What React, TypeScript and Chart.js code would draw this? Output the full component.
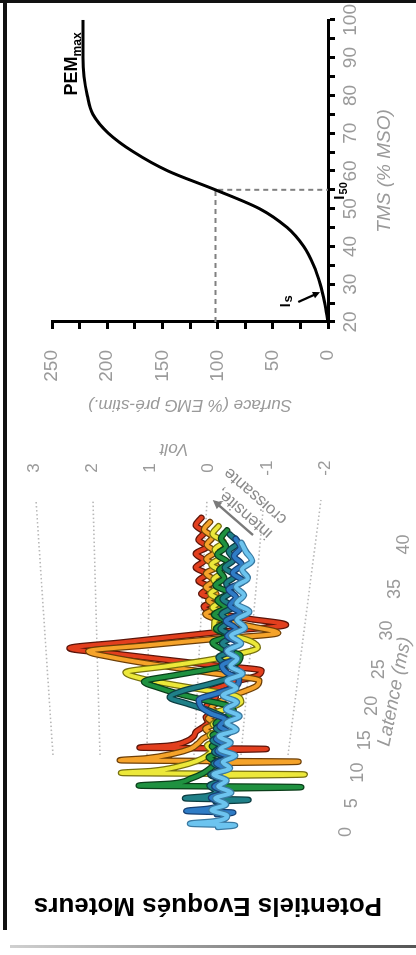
import React, { useEffect, useRef } from "react";
import { Chart, registerables } from "chart.js";

Chart.register(...registerables);

const FONT = '"Liberation Sans", Arial, Helvetica, sans-serif';

// ---------------- Left panel : MEP waterfall (values in volts) ----------------
const latencyMs = [0, 0.3, 0.6, 1, 2, 3, 4, 5, 6, 7, 8, 9, 10, 11, 12, 13, 14, 15, 16, 17, 18, 19, 20, 21, 22, 23, 24, 25, 26, 27, 28, 29, 30, 31, 32, 33, 34, 35, 36, 37, 38, 39, 40];

const mepLightBlue = [0, -0.36, 0.6, 0.1, -0.17, 0.17, -0.12, 0.12, -0.2, 0.08, -0.08, 0.2, -0.12, 0.04, -0.2, 0.12, -0.08, 0.17, -0.17, 0.04, -0.2, 0.08, -0.12, 0.17, -0.08, 0.12, -0.17, 0.08, -0.04, 0.17, -0.08, 0.12, -0.12, 0.04, -0.17, 0.08, -0.04, 0.12, -0.08, 0.04, -0.12, 0.0, 0.1];
const mepBlue = [0, -0.35, 0.65, 0.2, -0.1, 0.15, -0.15, 0.1, -0.1, 0.15, -0.1, 0.1, -0.15, 0.1, -0.05, 0.15, -0.1, 0.1, 0.0, 0.3, 0.5, 0.55, 0.2, -0.15, -0.2, 0.05, 0.15, -0.1, 0.1, -0.15, 0.1, -0.05, 0.15, -0.1, 0.1, 0.0, 0.15, -0.1, 0.1, -0.05, 0.1, 0.0, 0.1];
const mepTeal = [0, -0.7, 0.65, 0.2, 0.0, 0.15, -0.1, 0.15, -0.1, 0.1, -0.15, 0.1, -0.05, 0.15, -0.1, 0.1, -0.15, 0.0, 0.3, 0.7, 1.05, 0.8, 0.3, -0.1, -0.25, 0.0, 0.15, -0.1, 0.1, -0.1, 0.15, 0.0, 0.15, -0.05, 0.15, 0.0, 0.1, -0.05, 0.15, 0.0, 0.1, -0.05, 0.1];
const mepGreen = [0, -1.85, 1.6, 0.9, 0.5, 0.25, 0.1, 0.0, 0.15, -0.1, 0.1, -0.1, 0.1, -0.15, 0.05, -0.1, -0.3, -0.2, 0.3, 0.8, 1.2, 1.5, 0.9, 0.2, -0.3, -0.35, 0.0, 0.2, -0.1, 0.15, -0.05, 0.2, 0.0, 0.15, -0.05, 0.2, 0.05, 0.15, 0.0, 0.2, 0.05, 0.15, 0.05];
const mepYellow = [0, -1.95, 1.95, 1.3, 0.7, 0.35, 0.15, 0.05, 0.15, -0.05, 0.1, -0.1, 0.05, -0.15, 0.0, -0.3, -0.5, -0.4, 0.2, 0.9, 1.5, 1.8, 1.0, 0.2, -0.4, -0.75, -0.6, -0.2, 0.1, 0.1, -0.1, 0.15, 0.0, 0.2, 0.05, 0.15, 0.0, 0.2, 0.05, 0.15, 0.0, 0.2, 0.1];
const mepOrange = [0, -1.85, 1.95, 1.4, 0.8, 0.45, 0.3, 0.2, 0.05, 0.15, -0.05, 0.1, -0.1, 0.05, -0.1, -0.3, -0.6, -0.85, -0.9, -0.2, 0.6, 1.35, 2.0, 2.45, 1.3, 0.05, -1.2, -0.7, -0.1, 0.2, -0.05, 0.15, 0.0, 0.2, 0.05, 0.2, 0.0, 0.2, 0.05, 0.2, 0.1, 0.25, 0.15];
const mepRed = [0, -1.2, 1.5, 0.9, 0.5, 0.35, 0.3, 0.15, 0.05, 0.1, -0.05, 0.1, 0.0, -0.1, 0.05, -0.2, -0.5, -0.9, -1.0, -0.03, 0.92, 1.85, 2.76, 1.75, 0.7, -0.36, -1.42, -0.7, -0.05, 0.15, -0.1, 0.2, 0.05, 0.25, 0.1, 0.3, 0.15, 0.3, 0.1, 0.25, 0.15, 0.3, 0.2];

// front (lowest intensity) to back (highest intensity)
const traceValues = [mepLightBlue, mepBlue, mepTeal, mepGreen, mepYellow, mepOrange, mepRed];
const traceColors = ["#6cc4ef", "#2f7cc6", "#1f8088", "#1f9140", "#ece83a", "#f5a32a", "#e23f1e"];
const traceEdges = ["#3a7aa2", "#163f72", "#0d3d42", "#0b3e1a", "#77700f", "#6d3f08", "#5c150a"];

const voltTicks = [3, 2, 1, 0, -1, -2];
const latencyTicks = [0, 5, 10, 15, 20, 25, 30, 35, 40];

// ---------------- Right panel : recruitment curve ----------------
const tmsPercent = [20, 25, 30, 35, 40, 45, 50, 55, 60, 65, 70, 75, 80, 85, 90, 95, 100];
const surfacePercent = [0, 3, 7, 13, 22, 37, 62, 102, 145, 176, 199, 213, 218, 221, 222, 222, 222];
const i50Tms = 55;
const i50Surface = 102;

// ---------------- 3D projection of the waterfall ----------------
const PERSP_A = 0.01957;
const PERSP_B = -0.00544;
const DEPTH_SHIFT = 1.8;
const DEPTH_SHRINK = 0.0303;
const BASE_RISE = 0.025;
const BASE_TILT = 0.558;
const BASE_TILT_K = 0.0846;
const V_NEAR = 0.904;
const V_GROW = 0.192;

function persp(t: number) {
  return (PERSP_A * t) / (1 + PERSP_B * t);
}
function project(t: number, v: number, k: number) {
  const g = persp(t);
  return {
    x: DEPTH_SHIFT * k + 40 * g * (1 - DEPTH_SHRINK * k),
    y: BASE_RISE * k - g * (BASE_TILT - BASE_TILT_K * k) + v * (V_NEAR + V_GROW * g),
  };
}
// back wall (dotted volt grid)
function wallPoint(t: number, v: number) {
  const f = t / 40;
  return {
    x: 10.14 + 35.92 * f,
    y: (0.4615 + 0.904 * v) * (1 - f) + (0.2115 + 1.096 * v) * f,
  };
}

function drawArrow(ctx: CanvasRenderingContext2D, x0: number, y0: number, x1: number, y1: number, color: string, lw: number, head: number) {
  const ang = Math.atan2(y1 - y0, x1 - x0);
  ctx.save();
  ctx.strokeStyle = color;
  ctx.fillStyle = color;
  ctx.lineWidth = lw;
  ctx.beginPath();
  ctx.moveTo(x0, y0);
  ctx.lineTo(x1 - Math.cos(ang) * head * 0.7, y1 - Math.sin(ang) * head * 0.7);
  ctx.stroke();
  ctx.beginPath();
  ctx.moveTo(x1, y1);
  ctx.lineTo(x1 - head * Math.cos(ang - 0.45), y1 - head * Math.sin(ang - 0.45));
  ctx.lineTo(x1 - head * Math.cos(ang + 0.45), y1 - head * Math.sin(ang + 0.45));
  ctx.closePath();
  ctx.fill();
  ctx.restore();
}

const leftDecor = {
  id: "leftDecor",
  afterDatasetsDraw(chart: any) {
    const { ctx } = chart;
    const sx = chart.scales.x;
    const sy = chart.scales.y;
    const P = (p: { x: number; y: number }) => ({ x: sx.getPixelForValue(p.x), y: sy.getPixelForValue(p.y) });
    ctx.save();
    // volt labels
    ctx.fillStyle = "#9a9a9a";
    ctx.font = `17px ${FONT}`;
    ctx.textAlign = "center";
    ctx.textBaseline = "middle";
    for (const v of voltTicks) {
      const p = P(wallPoint(45, v));
      ctx.fillText(String(v), p.x, p.y);
    }
    // Volt title
    const vt = P(wallPoint(48, 0.6));
    ctx.save();
    ctx.translate(vt.x, vt.y);
    ctx.rotate(-Math.PI / 2);
    ctx.font = `italic 17px ${FONT}`;
    ctx.fillText("Volt", 0, 0);
    ctx.restore();
    // latency labels
    ctx.font = `18px ${FONT}`;
    for (const t of latencyTicks) {
      const p = P(project(t, -2.72, -0.4));
      ctx.fillText(String(t), p.x, p.y);
    }
    const a0 = P(project(0, -2.72, 0));
    const a1 = P(project(40, -2.72, 0));
    const ang = Math.atan2(a1.y - a0.y, a1.x - a0.x);
    const lt = P(project(21.5, -3.15, 0));
    ctx.save();
    ctx.translate(lt.x, lt.y);
    ctx.rotate(ang);
    ctx.font = `italic 19px ${FONT}`;
    ctx.fillText("Latence (ms)", 0, 0);
    ctx.restore();
    // intensity arrow
    const tail = P(wallPoint(34.5, -0.86));
    const tip = P(wallPoint(40, -0.1));
    drawArrow(ctx, tail.x, tail.y, tip.x, tip.y, "#7a7a7a", 2.5, 10);
    const len = Math.hypot(tip.x - tail.x, tip.y - tail.y);
    const d = { x: (tip.x - tail.x) / len, y: (tip.y - tail.y) / len };
    const n = { x: -d.y, y: d.x };
    const mid = { x: (tip.x + tail.x) / 2, y: (tip.y + tail.y) / 2 };
    const aAng = Math.atan2(d.y, d.x);
    ctx.font = `17px ${FONT}`;
    ctx.fillStyle = "#8a8a8a";
    const lines: [string, number, number][] = [
      ["intensité,", 11, -6],
      ["croissante", 31, -3],
    ];
    for (const [txt, off, along] of lines) {
      ctx.save();
      ctx.translate(mid.x + n.x * off + d.x * along, mid.y + n.y * off + d.y * along);
      ctx.rotate(aAng);
      ctx.fillText(txt, 0, 0);
      ctx.restore();
    }
    ctx.restore();
  },
};

const rightDecor = {
  id: "rightDecor",
  afterDatasetsDraw(chart: any) {
    const { ctx } = chart;
    const sx = chart.scales.x;
    const sy = chart.scales.y;
    ctx.save();
    ctx.fillStyle = "#000";
    ctx.textAlign = "left";
    ctx.textBaseline = "alphabetic";
    // PEMmax
    let px = sx.getPixelForValue(80);
    let py = sy.getPixelForValue(227);
    ctx.font = `bold 18px ${FONT}`;
    ctx.fillText("PEM", px, py);
    let w = ctx.measureText("PEM").width;
    ctx.font = `bold 12px ${FONT}`;
    ctx.fillText("max", px + w, py + 4);
    // I50
    px = sx.getPixelForValue(52.4);
    py = sy.getPixelForValue(-14.5);
    ctx.font = `bold 15px ${FONT}`;
    ctx.fillText("I", px, py);
    w = ctx.measureText("I").width;
    ctx.font = `bold 11px ${FONT}`;
    ctx.fillText("50", px + w + 1, py + 3);
    // Is
    px = sx.getPixelForValue(23.9);
    py = sy.getPixelForValue(34);
    ctx.font = `bold 14px ${FONT}`;
    ctx.fillText("I", px, py);
    w = ctx.measureText("I").width;
    ctx.font = `bold 13px ${FONT}`;
    ctx.fillText("s", px + w + 1, py + 2);
    drawArrow(
      ctx,
      sx.getPixelForValue(25.3),
      sy.getPixelForValue(27),
      sx.getPixelForValue(27.9),
      sy.getPixelForValue(7.2),
      "#000",
      2.2,
      8
    );
    ctx.restore();
  },
};

export default function App() {
  const leftRef = useRef<HTMLCanvasElement | null>(null);
  const rightRef = useRef<HTMLCanvasElement | null>(null);

  useEffect(() => {
    const datasets: any[] = [];
    traceValues.forEach((vals, k) => {
      const pts = latencyMs.map((t, i) => project(t, vals[i], k));
      const common = {
        data: pts,
        pointRadius: 0,
        cubicInterpolationMode: "monotone",
        borderCapStyle: "round",
        borderJoinStyle: "round",
        fill: false,
      };
      datasets.push({ ...common, borderColor: traceColors[k], borderWidth: 4 });
      datasets.push({ ...common, borderColor: traceEdges[k], borderWidth: 6.5 });
    });
    voltTicks.forEach((v) => {
      datasets.push({
        data: [wallPoint(0, v), wallPoint(40, v)],
        borderColor: "#b8b8b8",
        borderWidth: 1.6,
        borderDash: [1.5, 2.5],
        pointRadius: 0,
        fill: false,
      });
    });

    const left = new Chart(leftRef.current as HTMLCanvasElement, {
      type: "line",
      data: { datasets },
      options: {
        responsive: false,
        animation: false,
        devicePixelRatio: 1,
        layout: { padding: { left: 14, right: 0, top: 0, bottom: 0 } },
        scales: {
          x: { type: "linear", min: -5.972, max: 56.62, display: false },
          y: { type: "linear", min: -3.808, max: 4.192, display: false },
        },
        plugins: {
          legend: { display: false },
          tooltip: { enabled: false },
          title: {
            display: true,
            position: "left",
            text: "Potentiels Evoqués Moteurs",
            color: "#000",
            font: { family: FONT, size: 26, weight: "bold" },
            padding: 20.2,
          },
        },
      } as any,
      plugins: [leftDecor],
    });

    const right = new Chart(rightRef.current as HTMLCanvasElement, {
      type: "line",
      data: {
        datasets: [
          {
            data: tmsPercent.map((t, i) => ({ x: t, y: surfacePercent[i] })),
            borderColor: "#000",
            borderWidth: 3,
            pointRadius: 0,
            cubicInterpolationMode: "monotone",
            fill: false,
          },
          {
            data: [
              { x: 20, y: i50Surface },
              { x: i50Tms, y: i50Surface },
              { x: i50Tms, y: 0 },
            ],
            borderColor: "#808080",
            borderWidth: 2,
            borderDash: [5, 4],
            pointRadius: 0,
            fill: false,
          },
        ],
      },
      options: {
        responsive: false,
        animation: false,
        devicePixelRatio: 1,
        layout: { padding: { left: 0, right: 16, top: 52, bottom: 0 } },
        scales: {
          x: {
            type: "linear",
            min: 20,
            max: 100,
            afterFit: (s: any) => {
              s.height = 88;
            },
            ticks: {
              stepSize: 5,
              autoSkip: false,
              maxRotation: 0,
              padding: 4,
              color: "#9a9a9a",
              font: { family: FONT, size: 19 },
              callback: (v: any) => (Number(v) % 10 === 0 ? String(v) : ""),
            },
            grid: { drawOnChartArea: false, drawTicks: true, tickLength: 7, tickWidth: 3, tickColor: "#000" },
            border: { display: true, color: "#000", width: 3 },
            title: {
              display: true,
              text: "TMS (% MSO)",
              color: "#9a9a9a",
              font: { family: FONT, size: 19, style: "italic" },
              padding: { top: 0, bottom: 20 },
            },
          },
          y: {
            type: "linear",
            min: 0,
            max: 250,
            afterFit: (s: any) => {
              s.width = 103;
            },
            ticks: {
              stepSize: 25,
              autoSkip: false,
              padding: 21,
              color: "#9a9a9a",
              font: { family: FONT, size: 19 },
              callback: (v: any) => (Number(v) % 50 === 0 ? String(v) : ""),
            },
            grid: { drawOnChartArea: false, drawTicks: true, tickLength: 7, tickWidth: 3, tickColor: "#000" },
            border: { display: true, color: "#000", width: 3 },
            title: {
              display: true,
              text: "Surface (% EMG pré-stim.)",
              color: "#9a9a9a",
              font: { family: FONT, size: 17, style: "italic" },
              padding: { top: 10, bottom: 0 },
            },
          },
        },
        plugins: {
          legend: { display: false },
          tooltip: { enabled: false },
        },
      } as any,
      plugins: [rightDecor],
    });

    return () => {
      left.destroy();
      right.destroy();
    };
  }, []);

  return (
    <div
      style={{
        position: "fixed",
        left: 0,
        top: 0,
        width: 955,
        height: 416,
        background: "#fff",
        transformOrigin: "0 0",
        transform: "translateY(955px) rotate(-90deg)",
        overflow: "hidden",
      }}
    >
      <div style={{ position: "absolute", left: 25, top: 3, width: 930, height: 4, background: "#111" }} />
      <div style={{ position: "absolute", left: 952, top: 0, width: 3, height: 416, background: "#111" }} />
      <div
        style={{
          position: "absolute",
          left: 7,
          top: 10,
          width: 3,
          height: 406,
          background: "linear-gradient(to bottom, #d0d0d0, #555)",
        }}
      />
      <canvas ref={leftRef} width={530} height={416} style={{ position: "absolute", left: 0, top: 0 }} />
      <canvas ref={rightRef} width={425} height={416} style={{ position: "absolute", left: 530, top: 0 }} />
    </div>
  );
}
